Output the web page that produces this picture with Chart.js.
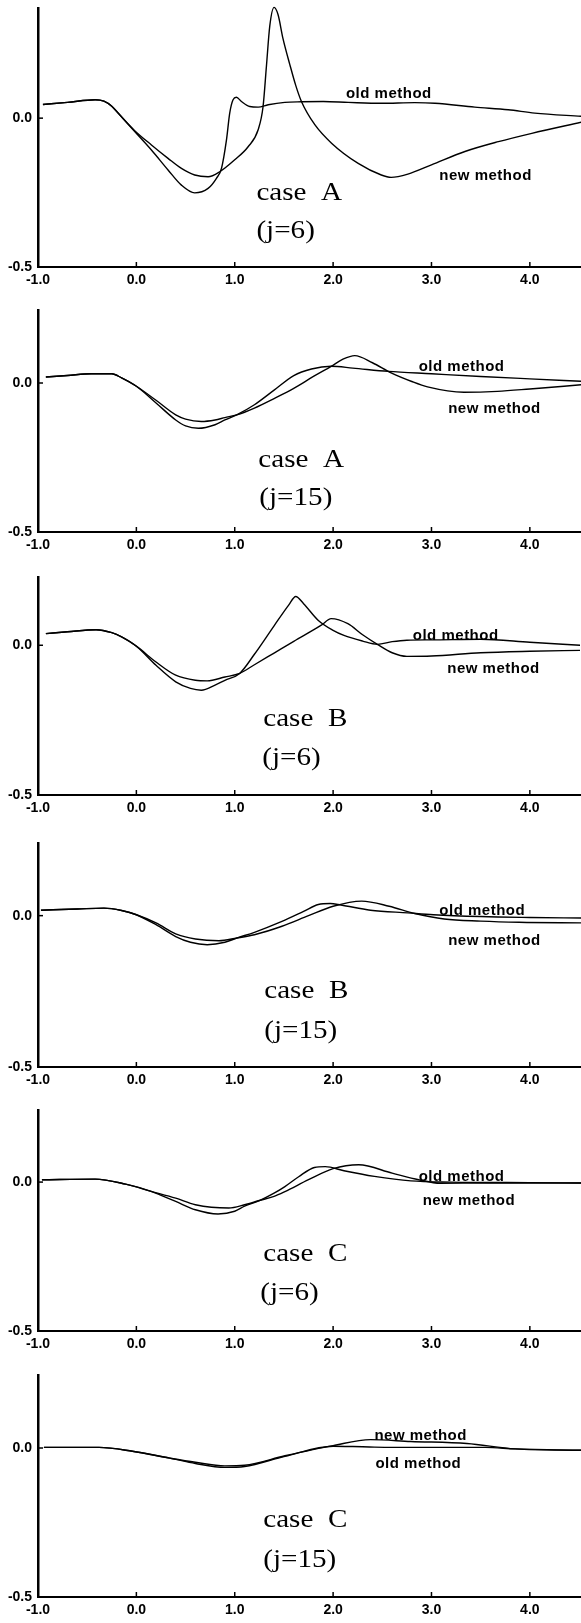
<!DOCTYPE html>
<html>
<head>
<meta charset="utf-8">
<script src="https://cdn.jsdelivr.net/npm/chart.js@4.4.1/dist/chart.umd.min.js"></script>
<style>
  html, body { margin: 0; padding: 0; background: #fff; }
  body { position: relative; width: 581px; height: 1623px; overflow: hidden; }
  canvas { position: absolute; left: 0; }
</style>
</head>
<body>
<script>
// axis ticks
const xTickValues = [-1, 0, 1, 2, 3, 4];
const yTickValues = [-0.5, 0];
const xMin = -1.0, xMax = 4.52;

// series values, [x, y] pairs
// case A (j=6)
const p1Old = [[-0.95,0.046],[-0.7,0.053],[-0.42,0.062],[-0.33,0.057],[-0.25,0.04],[-0.186,0.017],[-0.017,-0.045],[0.153,-0.107],[0.322,-0.174],[0.458,-0.225],[0.593,-0.251],[0.729,-0.236],[0.814,-0.202],[0.865,-0.169],[0.916,-0.073],[0.949,0.017],[0.983,0.062],[1.017,0.07],[1.068,0.056],[1.153,0.039],[1.238,0.037],[1.34,0.045],[1.509,0.053],[1.678,0.055],[1.9,0.056],[2.154,0.053],[2.49,0.05],[2.83,0.052],[3.035,0.05],[3.44,0.037],[3.78,0.028],[4.05,0.017],[4.53,0.006]];
const p1New = [[-0.95,0.046],[-0.7,0.053],[-0.42,0.062],[-0.33,0.057],[-0.25,0.04],[-0.186,0.017],[-0.017,-0.042],[0.153,-0.09],[0.322,-0.135],[0.458,-0.169],[0.593,-0.191],[0.729,-0.197],[0.848,-0.18],[1.0,-0.14],[1.136,-0.096],[1.238,-0.039],[1.288,0.039],[1.322,0.174],[1.356,0.309],[1.4,0.372],[1.44,0.348],[1.49,0.268],[1.56,0.18],[1.62,0.11],[1.678,0.056],[1.814,-0.022],[1.984,-0.084],[2.255,-0.152],[2.49,-0.191],[2.59,-0.199],[2.76,-0.188],[3.0,-0.157],[3.34,-0.112],[3.68,-0.079],[4.02,-0.051],[4.53,-0.013]];
// case A (j=15)
const p2Old = [[-0.92,0.02],[-0.7,0.025],[-0.46,0.031],[-0.25,0.031],[-0.15,0.017],[0,-0.011],[0.2,-0.067],[0.4,-0.124],[0.5,-0.144],[0.63,-0.152],[0.8,-0.14],[0.9,-0.124],[1.02,-0.107],[1.2,-0.073],[1.4,-0.024],[1.6,0.025],[1.78,0.047],[1.98,0.056],[2.2,0.05],[2.56,0.039],[3.0,0.031],[3.5,0.022],[4.0,0.014],[4.52,0.006]];
const p2New = [[-0.92,0.02],[-0.7,0.025],[-0.46,0.031],[-0.25,0.031],[-0.15,0.017],[0,-0.011],[0.2,-0.058],[0.4,-0.107],[0.5,-0.121],[0.66,-0.129],[0.8,-0.124],[0.9,-0.116],[1.02,-0.107],[1.2,-0.084],[1.4,-0.052],[1.6,-0.018],[1.8,0.022],[1.98,0.056],[2.1,0.08],[2.22,0.092],[2.4,0.068],[2.59,0.034],[2.8,0.005],[2.96,-0.013],[3.33,-0.031],[3.67,-0.028],[4.0,-0.02],[4.52,-0.006]];
// case B (j=6)
const p3Old = [[-0.92,0.039],[-0.7,0.045],[-0.41,0.052],[-0.25,0.042],[-0.15,0.028],[0,-0.003],[0.2,-0.067],[0.4,-0.122],[0.55,-0.144],[0.66,-0.15],[0.8,-0.133],[0.9,-0.117],[1.05,-0.094],[1.2,-0.03],[1.4,0.065],[1.55,0.135],[1.62,0.163],[1.7,0.139],[1.85,0.083],[2.0,0.05],[2.11,0.033],[2.3,0.014],[2.45,0.003],[2.6,0.012],[2.75,0.017],[3.0,0.018],[3.5,0.02],[4.0,0.01],[4.51,0.0]];
const p3New = [[-0.92,0.039],[-0.7,0.045],[-0.41,0.052],[-0.25,0.042],[-0.15,0.028],[0,-0.003],[0.2,-0.056],[0.4,-0.1],[0.6,-0.117],[0.72,-0.119],[0.9,-0.106],[1.05,-0.094],[1.2,-0.065],[1.4,-0.026],[1.6,0.013],[1.88,0.067],[1.98,0.089],[2.15,0.072],[2.3,0.035],[2.45,0.003],[2.6,-0.025],[2.75,-0.037],[3.0,-0.036],[3.5,-0.025],[4.0,-0.02],[4.51,-0.017]];
// case B (j=15)
const p4Old = [[-0.97,0.018],[-0.6,0.022],[-0.33,0.025],[-0.15,0.017],[0,0.003],[0.2,-0.03],[0.4,-0.069],[0.55,-0.088],[0.72,-0.096],[0.9,-0.088],[1.02,-0.074],[1.2,-0.055],[1.48,-0.019],[1.7,0.014],[1.85,0.037],[1.97,0.04],[2.08,0.035],[2.38,0.018],[2.76,0.009],[3.02,0.003],[3.5,-0.003],[4.0,-0.006],[4.52,-0.008]];
const p4New = [[-0.97,0.018],[-0.6,0.022],[-0.33,0.025],[-0.15,0.017],[0,0.003],[0.2,-0.024],[0.4,-0.06],[0.6,-0.077],[0.84,-0.083],[1.02,-0.074],[1.2,-0.063],[1.48,-0.035],[1.75,0.0],[2.0,0.031],[2.29,0.048],[2.57,0.031],[2.83,0.007],[3.13,-0.011],[3.5,-0.018],[3.89,-0.022],[4.52,-0.024]];
// case C (j=6)
const p5Old = [[-0.96,0.008],[-0.42,0.01],[-0.11,-0.007],[0.15,-0.031],[0.4,-0.065],[0.6,-0.093],[0.83,-0.107],[1.0,-0.098],[1.1,-0.081],[1.25,-0.062],[1.4,-0.037],[1.51,-0.015],[1.65,0.018],[1.81,0.049],[1.92,0.052],[2.11,0.038],[2.42,0.019],[2.79,0.004],[3.2,0.0],[4.0,-0.002],[4.52,-0.003]];
const p5New = [[-0.96,0.008],[-0.42,0.01],[-0.11,-0.007],[0.15,-0.031],[0.4,-0.054],[0.6,-0.076],[0.94,-0.087],[1.1,-0.076],[1.25,-0.062],[1.4,-0.048],[1.51,-0.032],[1.75,0.008],[2.0,0.045],[2.26,0.058],[2.6,0.03],[2.87,0.008],[3.09,-0.004],[3.55,-0.003],[4.52,-0.003]];
// case C (j=15)
const p6Old = [[-0.94,0.002],[-0.38,0.002],[-0.04,-0.011],[0.34,-0.034],[0.6,-0.052],[0.9,-0.065],[1.1,-0.062],[1.51,-0.028],[2.0,0.006],[2.2,0.005],[2.42,0.003],[2.98,0.002],[3.55,0.002],[3.85,-0.003],[4.56,-0.008]];
const p6New = [[-0.94,0.002],[-0.38,0.002],[-0.04,-0.011],[0.34,-0.034],[0.6,-0.048],[0.9,-0.06],[1.1,-0.058],[1.51,-0.026],[2.0,0.008],[2.38,0.028],[2.79,0.022],[3.36,0.015],[3.85,-0.003],[4.56,-0.008]];

const oldSeries = [p1Old, p2Old, p3Old, p4Old, p5Old, p6Old];
const newSeries = [p1New, p2New, p3New, p4New, p5New, p6New];
const panelYMax = [0.37, 0.245, 0.228, 0.24, 0.242, 0.245];

// panel texts and where they sit (data coords, baseline)
const caseTitles = ['case  A', 'case  A', 'case  B', 'case  B', 'case  C', 'case  C'];
const jTitles = ['(j=6)', '(j=15)', '(j=6)', '(j=15)', '(j=6)', '(j=15)'];
const casePos = [[1.22,-0.276],[1.24,-0.281],[1.29,-0.27],[1.30,-0.273],[1.29,-0.266],[1.29,-0.265]];
const jPos = [[1.22,-0.404],[1.25,-0.411],[1.28,-0.40],[1.30,-0.403],[1.26,-0.396],[1.29,-0.40]];
const oldTagPos = [[2.13,0.067],[2.87,0.039],[2.81,0.017],[3.08,0.003],[2.87,0.002],[2.43,-0.067]];
const newTagPos = [[3.08,-0.209],[3.17,-0.101],[3.16,-0.094],[3.17,-0.096],[2.91,-0.076],[2.42,0.028]];

// page layout: top of y axis and the x axis line of each panel
const panelTops = [8, 310, 577, 843, 1110, 1375];
const panelBottoms = [267, 532, 795, 1067, 1331, 1597];
const padTop = 4;
const xAxisHeight = 26;
const yAxisWidth = 38;

const tickFont = { family: "'Liberation Sans', Arial, sans-serif", size: 14, weight: 'bold' };

function makeOverlay(i) {
  return {
    id: 'overlay' + i,
    afterDatasetsDraw(chart) {
      const { ctx, scales: { x, y } } = chart;
      ctx.save();
      // small inward tick marks
      ctx.strokeStyle = '#000';
      ctx.lineWidth = 1.5;
      xTickValues.forEach(v => {
        const px = x.getPixelForValue(v);
        ctx.beginPath();
        ctx.moveTo(px, y.bottom);
        ctx.lineTo(px, y.bottom - 5);
        ctx.stroke();
      });
      const zy = y.getPixelForValue(0);
      ctx.beginPath();
      ctx.moveTo(x.left, zy);
      ctx.lineTo(x.left + 5, zy);
      ctx.stroke();

      ctx.fillStyle = '#000';
      ctx.textAlign = 'left';
      ctx.textBaseline = 'alphabetic';
      ctx.font = "bold 15px 'Liberation Sans', Arial, sans-serif";
      ctx.letterSpacing = '0.5px';
      ctx.fillText('old method', x.getPixelForValue(oldTagPos[i][0]), y.getPixelForValue(oldTagPos[i][1]));
      ctx.fillText('new method', x.getPixelForValue(newTagPos[i][0]), y.getPixelForValue(newTagPos[i][1]));
      ctx.letterSpacing = '0px';

      ctx.font = "26px 'Liberation Serif', 'Times New Roman', serif";
      [[caseTitles[i], casePos[i]], [jTitles[i], jPos[i]]].forEach(([txt, p]) => {
        ctx.save();
        ctx.translate(x.getPixelForValue(p[0]), y.getPixelForValue(p[1]));
        ctx.scale(1.12, 1);
        ctx.fillText(txt, 0, 0);
        ctx.restore();
      });
      ctx.restore();
    }
  };
}

for (let i = 0; i < 6; i++) {
  const h = panelBottoms[i] - panelTops[i] + padTop + xAxisHeight;
  const canvas = document.createElement('canvas');
  canvas.width = 581;
  canvas.height = h;
  canvas.style.top = (panelTops[i] - padTop) + 'px';
  canvas.style.width = '581px';
  canvas.style.height = h + 'px';
  document.body.appendChild(canvas);

  const lineStyle = {
    borderColor: '#000',
    borderWidth: 1.4,
    pointRadius: 0,
    fill: false,
    cubicInterpolationMode: 'monotone',
    clip: 4
  };

  new Chart(canvas.getContext('2d'), {
    type: 'line',
    data: {
      datasets: [
        Object.assign({ label: 'old method', data: oldSeries[i].map(p => ({ x: p[0], y: p[1] })) }, lineStyle),
        Object.assign({ label: 'new method', data: newSeries[i].map(p => ({ x: p[0], y: p[1] })) }, lineStyle)
      ]
    },
    options: {
      responsive: false,
      animation: false,
      devicePixelRatio: 1,
      layout: { padding: { top: padTop, right: 0, bottom: 0, left: 0 } },
      plugins: { legend: { display: false }, tooltip: { enabled: false }, title: { display: false } },
      scales: {
        x: {
          type: 'linear',
          min: xMin,
          max: xMax,
          grid: { display: false, drawTicks: false },
          border: { display: true, color: '#000', width: 2 },
          ticks: {
            color: '#000',
            font: tickFont,
            padding: 5,
            maxRotation: 0,
            autoSkip: false,
            callback: v => Number(v).toFixed(1)
          },
          afterBuildTicks: s => { s.ticks = xTickValues.map(v => ({ value: v })); },
          afterFit: s => {
            s.height = xAxisHeight;
            s.paddingLeft = 0;
            s.paddingRight = 0;
          }
        },
        y: {
          type: 'linear',
          min: -0.5,
          max: panelYMax[i],
          grid: { display: false, drawTicks: false },
          border: { display: true, color: '#000', width: 2.5 },
          ticks: {
            color: '#000',
            font: tickFont,
            padding: 6,
            callback: v => Number(v).toFixed(1)
          },
          afterBuildTicks: s => { s.ticks = yTickValues.map(v => ({ value: v })); },
          afterFit: s => {
            // labels sit at 0.0 and -0.5 only, so no extra room above the axis
            s.width = yAxisWidth;
            s.paddingTop = 0;
            s.paddingBottom = 0;
          }
        }
      }
    },
    plugins: [makeOverlay(i)]
  });
}
</script>
</body>
</html>
